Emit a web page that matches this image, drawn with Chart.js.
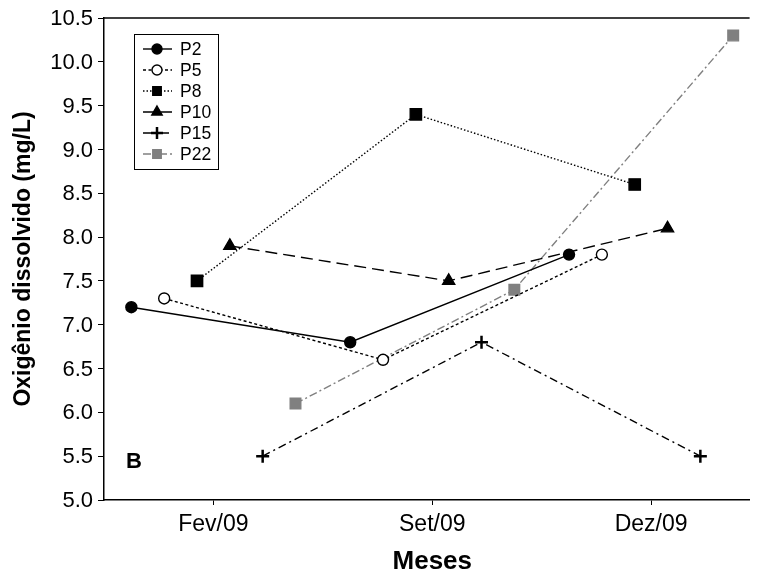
<!DOCTYPE html>
<html>
<head>
<meta charset="utf-8">
<script src="https://cdn.jsdelivr.net/npm/chart.js@4"></script>
<style>
  html, body { margin: 0; padding: 0; background: #fff; }
  #wrap { width: 759px; height: 574px; }
</style>
</head>
<body>
<div id="wrap"><canvas id="chart" width="759" height="574"></canvas></div>
<script>
    // months sampled and dissolved oxygen per station
    const months = ['Fev/09', 'Set/09', 'Dez/09'];
    const stations = ['P2', 'P5', 'P8', 'P10', 'P15', 'P22'];
    const p2 = [7.2, 6.8, 7.8];
    const p5 = [7.3, 6.6, 7.8];
    const p8 = [7.5, 9.4, 8.6];
    const p10 = [7.9, 7.5, 8.1];
    const p15 = [5.5, 6.8, 5.5];
    const p22 = [6.1, 7.4, 10.3];
    const yTicks = [5.0, 5.5, 6.0, 6.5, 7.0, 7.5, 8.0, 8.5, 9.0, 9.5, 10.0, 10.5];

    const values = [p2, p5, p8, p10, p15, p22];

    const FONT = 'Arial, "Liberation Sans", sans-serif';

    const styles = [
      { color: '#000', dash: [], point: 'circle', fill: '#000', radius: 5.5 },
      { color: '#000', dash: [3, 2.5], point: 'circle', fill: '#fff', radius: 5.5 },
      { color: '#000', dash: [1.5, 2], point: 'rect', fill: '#000', radius: 8 },
      { color: '#000', dash: [12, 6], point: 'triangle', fill: '#000', radius: 7 },
      { color: '#000', dash: [8, 4, 2, 4], point: 'cross', fill: '#000', radius: 6.5 },
      { color: '#808080', dash: [8, 3, 2, 3], point: 'rect', fill: '#808080', radius: 7.5 }
    ];

    // stations are spread side by side around each month
    const spread = 0.15;
    const datasets = stations.map((name, k) => {
      const st = styles[k];
      const off = (k - (stations.length - 1) / 2) * spread;
      return {
        label: name,
        data: values[k].map((v, i) => ({ x: i + 1 + off, y: v })),
        borderColor: st.color,
        borderWidth: 1.4,
        borderDash: st.dash,
        pointStyle: st.point,
        pointRadius: st.radius,
        pointBackgroundColor: st.fill,
        pointBorderColor: st.color,
        pointBorderWidth: st.point === 'cross' ? 2.5 : 1.4,
        showLine: true,
        tension: 0
      };
    });

    // legend box with a line sample and marker for each station
    const legendBox = {
      id: 'legendBox',
      afterDatasetsDraw(chart) {
        const ctx = chart.ctx;
        const x0 = 134, y0 = 34, w = 84, h = 135;
        ctx.save();
        ctx.fillStyle = '#fff';
        ctx.fillRect(x0, y0, w, h);
        ctx.strokeStyle = '#000';
        ctx.lineWidth = 1;
        ctx.strokeRect(x0 + 0.5, y0 + 0.5, w, h);
        chart.data.datasets.forEach((ds, k) => {
          const y = 49 + k * 21;
          ctx.strokeStyle = ds.borderColor;
          ctx.lineWidth = 1.4;
          ctx.setLineDash(ds.borderDash);
          ctx.beginPath();
          ctx.moveTo(143, y);
          ctx.lineTo(172, y);
          ctx.stroke();
          ctx.setLineDash([]);
          ctx.fillStyle = ds.pointBackgroundColor;
          ctx.strokeStyle = ds.pointBorderColor;
          ctx.lineWidth = ds.pointBorderWidth;
          const r = ds.pointStyle === 'circle' ? 5 : 6;
          Chart.helpers.drawPoint(ctx, { pointStyle: ds.pointStyle, radius: r, borderWidth: ds.pointBorderWidth }, 157, y);
          ctx.fillStyle = '#000';
          ctx.font = '17.5px ' + FONT;
          ctx.textBaseline = 'middle';
          ctx.textAlign = 'left';
          ctx.fillText(ds.label, 180, y + 1);
        });
        ctx.restore();
      }
    };

    // top frame line, y tick labels, x axis title and panel letter
    const frame = {
      id: 'frame',
      afterDraw(chart) {
        const ctx = chart.ctx;
        const a = chart.chartArea;
        const ys = chart.scales.y;
        ctx.save();
        ctx.strokeStyle = '#000';
        ctx.lineWidth = 1.5;
        ctx.beginPath();
        ctx.moveTo(a.left, a.top);
        ctx.lineTo(a.right, a.top);
        ctx.stroke();
        ctx.fillStyle = '#000';
        ctx.font = '22px ' + FONT;
        ctx.textAlign = 'right';
        ctx.textBaseline = 'middle';
        yTicks.forEach(v => {
          ctx.fillText(v.toFixed(1), a.left - 11, ys.getPixelForValue(v) + 1);
        });
        ctx.textAlign = 'left';
        ctx.font = 'bold 22px ' + FONT;
        ctx.fillText('B', 126, 462);
        // axis title sits under the middle month
        ctx.font = 'bold 26px ' + FONT;
        ctx.textAlign = 'center';
        ctx.fillText('Meses', chart.scales.x.getPixelForValue(2), 562);
        ctx.restore();
      }
    };

    new Chart(document.getElementById('chart'), {
      type: 'scatter',
      data: { datasets: datasets },
      plugins: [legendBox, frame],
      options: {
        responsive: false,
        animation: false,
        layout: { padding: { top: 18, right: 0, bottom: 0, left: 0 } },
        plugins: {
          legend: { display: false },
          tooltip: { enabled: false }
        },
        scales: {
          x: {
            type: 'linear',
            min: 0.5,
            max: 3.45,
            afterBuildTicks: (scale) => {
              scale.ticks = months.map((m, i) => ({ value: i + 1 }));
            },
            afterFit: (scale) => {
              scale.height = 74;
              scale.paddingLeft = 0;
              scale.paddingRight = 0;
            },
            ticks: {
              color: '#000',
              font: { family: FONT, size: 23 },
              padding: 6,
              maxRotation: 0,
              callback: (v) => months[Math.round(v) - 1] || ''
            },
            grid: { drawOnChartArea: false, tickLength: 5, color: '#000', lineWidth: 1 },
            border: { display: true, color: '#000', width: 1.5 }
          },
          y: {
            min: 5.0,
            max: 10.5,
            afterBuildTicks: (scale) => {
              scale.ticks = yTicks.map(v => ({ value: v }));
            },
            afterFit: (scale) => { scale.width = 104; },
            // labels are painted by the frame plugin
            ticks: { display: true, color: 'rgba(0,0,0,0)', font: { family: FONT, size: 12 }, padding: 4 },
            grid: { drawOnChartArea: false, tickLength: 6, color: '#000', lineWidth: 1 },
            border: { display: true, color: '#000', width: 1.5 },
            title: {
              display: true,
              text: 'Oxigênio dissolvido (mg/L)',
              color: '#000',
              font: { family: FONT, size: 23, weight: 'bold', lineHeight: 1 },
              padding: { top: 12, bottom: 0 }
            }
          }
        }
      }
    });
</script>
</body>
</html>
